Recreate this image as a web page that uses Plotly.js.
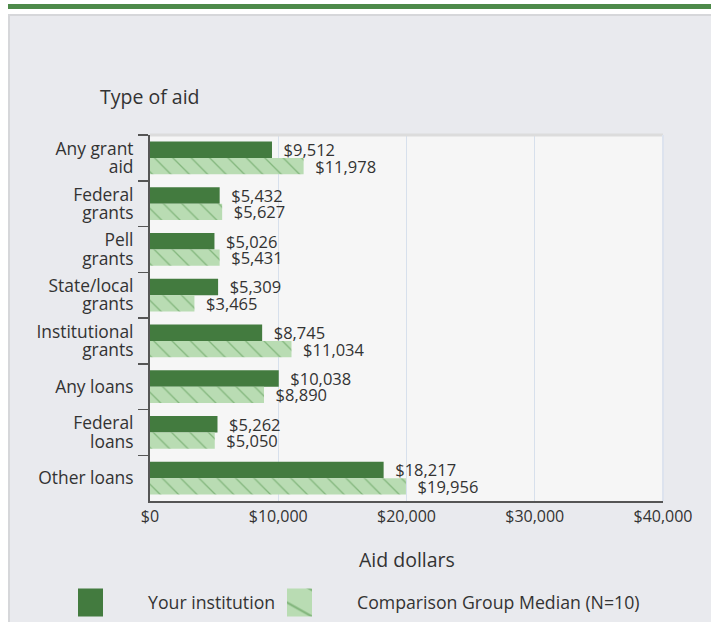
<!DOCTYPE html>
<html>
<head>
<meta charset="utf-8">
<script src="https://cdn.plot.ly/plotly-3.0.1.min.js"></script>
<style>
  html, body { margin: 0; padding: 0; background: #ffffff; width: 711px; height: 622px; overflow: hidden; }
  #topbar { position: absolute; left: 8px; top: 4px; width: 703px; height: 5px; background: #4d8a4a; }
  #panel { position: absolute; left: 8px; top: 14px; width: 710px; height: 620px; background: #e9eaee; border: 2px solid #d6d7da; box-sizing: border-box; }
  #chart { position: absolute; left: 0; top: 0; width: 711px; height: 622px; }
  #chart .legendpoints path { transform: scale(4.1667, 2.3333); }
</style>
</head>
<body>
<div id="topbar"></div>
<div id="panel"></div>
<div id="chart"></div>
<script>
const categories = ["Any grant<br>aid", "Federal<br>grants", "Pell<br>grants", "State/local<br>grants", "Institutional<br>grants", "Any loans", "Federal<br>loans", "Other loans"];
const institutionValues = [9512, 5432, 5026, 5309, 8745, 10038, 5262, 18217];
const comparisonValues = [11978, 5627, 5431, 3465, 11034, 8890, 5050, 19956];
const xTickValues = [0, 10000, 20000, 30000, 40000];
const xTickLabels = ["$0", "$10,000", "$20,000", "$30,000", "$40,000"];
const seriesNames = ["Your institution", "Comparison Group Median (N=10)"];

const FONT = "Open Sans, Liberation Sans, Arial, sans-serif";
const TXT = "#333333";
const DARK = "#437b3f";
const LIGHT = "#b9dcb3";
const PAD = "\u00a0\u00a0";

const traces = [
  {
    type: "bar", orientation: "h",
    y: categories, x: institutionValues,
    name: seriesNames[0],
    legend: "legend",
    marker: { color: DARK, line: { width: 0 } },
    text: institutionValues.map(v => PAD + "$" + v.toLocaleString("en-US")),
    textposition: "outside",
    constraintext: "none",
    textfont: { family: FONT, size: 16.5, color: TXT },
    cliponaxis: false,
    hoverinfo: "none"
  },
  {
    type: "bar", orientation: "h",
    y: categories, x: comparisonValues,
    name: seriesNames[1],
    legend: "legend2",
    marker: {
      color: LIGHT,
      line: { width: 0 },
      pattern: { shape: "\\", fgcolor: "#5e9c58", bgcolor: LIGHT, size: 13, solidity: 0.1, fgopacity: 0.6, fillmode: "replace" }
    },
    text: comparisonValues.map(v => PAD + "$" + v.toLocaleString("en-US")),
    textposition: "outside",
    constraintext: "none",
    textfont: { family: FONT, size: 16.5, color: TXT },
    cliponaxis: false,
    hoverinfo: "none"
  }
];

const legendBase = {
  orientation: "h",
  xref: "container", yref: "container",
  xanchor: "left",
  y: 0.0305, yanchor: "middle",
  font: { family: FONT, size: 17.7, color: TXT },
  itemwidth: 60,
  bgcolor: "rgba(0,0,0,0)",
  borderwidth: 0
};

const layout = {
  width: 711, height: 622,
  margin: { l: 150, r: 48, t: 135, b: 121, pad: 0 },
  paper_bgcolor: "rgba(0,0,0,0)",
  plot_bgcolor: "#f6f6f6",
  barmode: "group",
  bargap: 0.28,
  bargroupgap: 0,
  font: { family: FONT, size: 16, color: TXT },
  showlegend: true,
  legend: Object.assign({}, legendBase, { x: 78 / 711 }),
  legend2: Object.assign({}, legendBase, { x: 287 / 711 }),
  xaxis: {
    range: [0, 40000],
    tickvals: xTickValues,
    ticktext: xTickLabels,
    tickfont: { family: FONT, size: 16, color: TXT },
    showgrid: true,
    gridcolor: "#d7e0ec",
    gridwidth: 1,
    zeroline: false,
    showline: true,
    linecolor: "#555555",
    linewidth: 2,
    ticks: "",
    fixedrange: true
  },
  yaxis: {
    type: "category",
    autorange: "reversed",
    tickson: "boundaries",
    ticks: "outside",
    ticklen: 10,
    tickcolor: "#555555",
    tickwidth: 1.5,
    showline: true,
    linecolor: "#555555",
    linewidth: 2,
    showgrid: false,
    tickfont: { family: FONT, size: 17.4, color: TXT },
    ticklabelstandoff: 11,
    fixedrange: true
  },
  shapes: [
    { type: "line", xref: "paper", yref: "paper", x0: 0, x1: 1, y0: 1, y1: 1, line: { color: "#dcdcdc", width: 3 } },
    { type: "line", xref: "paper", yref: "paper", x0: 1, x1: 1, y0: 0, y1: 1, line: { color: "#dde3ee", width: 2 } }
  ],
  annotations: [
    { text: "Type of aid", xref: "paper", yref: "paper", x: 0, y: 1.104, xanchor: "center", yanchor: "middle", showarrow: false, font: { family: FONT, size: 19.5, color: TXT } },
    { text: "Aid dollars", xref: "paper", yref: "paper", x: 0.5, y: -0.161, xanchor: "center", yanchor: "middle", showarrow: false, font: { family: FONT, size: 19.5, color: TXT } }
  ]
};

function tightenLabels(gd) {
  gd.querySelectorAll("g.ytick text").forEach(function (t) {
    if (t.getAttribute("data-tight")) return;
    const lines = t.querySelectorAll("tspan.line");
    if (lines.length < 2) return;
    t.setAttribute("data-tight", "1");
    for (let i = 1; i < lines.length; i++) lines[i].setAttribute("dy", "1.05em");
    const fs = parseFloat(t.style.fontSize) || 17;
    const cur = t.getAttribute("transform") || "";
    t.setAttribute("transform", cur + " translate(0," + (0.125 * fs * (lines.length - 1)) + ")");
  });
}

const chartDiv = document.getElementById("chart");
let busy = false;
function fixAll() {
  if (busy) return;
  busy = true;
  try { tightenLabels(chartDiv); } finally { busy = false; }
}
const observer = new MutationObserver(fixAll);
observer.observe(chartDiv, { childList: true, subtree: true });

Plotly.newPlot(chartDiv, traces, layout, { displayModeBar: false, staticPlot: true }).then(function () {
  fixAll();
  setTimeout(fixAll, 0);
});
</script>
</body>
</html>
